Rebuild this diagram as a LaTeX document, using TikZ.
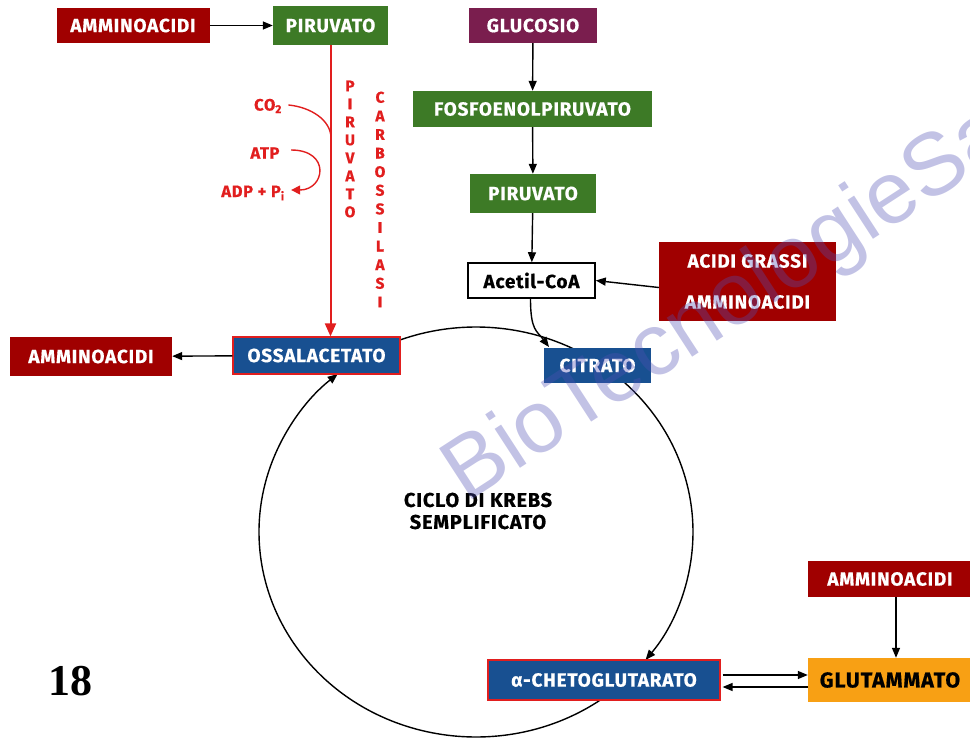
\documentclass[tikz,border=0pt]{standalone}
\usepackage{fontspec}
\setmainfont{Fira Sans}
\newfontfamily\heavy{Fira Sans}[UprightFont=* Bold, FakeBold=0.6, LetterSpace=4]
\newfontfamily\numfont{Liberation Serif}
\newfontfamily\wmfont{Liberation Sans}
\usetikzlibrary{arrows.meta,calc}

\definecolor{aared}{RGB}{160,0,0}
\definecolor{pgreen}{RGB}{61,122,38}
\definecolor{gpurple}{RGB}{122,30,78}
\definecolor{kblue}{RGB}{24,80,145}
\definecolor{gorange}{RGB}{248,160,20}
\definecolor{ered}{RGB}{225,30,30}
\definecolor{wmark}{RGB}{80,80,180}

\begin{document}
\begin{tikzpicture}[x=1pt,y=-1pt,
  box/.style={rectangle, inner sep=0pt, font=\fontsize{19}{20}\selectfont\heavy, text=white},
  aa/.style={box, fill=aared},
  gr/.style={box, fill=pgreen},
  blr/.style={box, fill=kblue, draw=ered, line width=1.2pt},
  bl/.style={box, fill=kblue},
  arr/.style={-{Triangle[length=10pt,width=8pt]}, line width=1.4pt},
  rarr/.style={-{Triangle[length=13pt,width=11pt]}, line width=2pt, draw=ered},
  rtxt/.style={text=ered, font=\fontsize{16.5}{17}\selectfont\heavy},
  vtxt/.style={text=ered, align=center, inner sep=0pt},
]
\useasboundingbox (0,0) rectangle (970,738);
\clip (0,0) rectangle (970,738);

% --- cycle (ellipse arcs, drawn first so the boxes cover them)
\coordinate (K) at (476,532);
\coordinate (k1) at ($(K)+(-113.3:217 and 205)$);
\coordinate (k2) at ($(K)+(-58.3:217 and 205)$);
\coordinate (k3) at ($(K)+(50:217 and 205)$);
\draw[line width=1.4pt] (k1) arc[start angle=-113.3, end angle=-58.3, x radius=217, y radius=205];
\draw[arr] (k2) arc[start angle=-58.3, end angle=38.6, x radius=217, y radius=205];
\draw[arr] (k3) arc[start angle=50, end angle=230.4, x radius=217, y radius=205];

% --- boxes
\node[aa, minimum width=153pt, minimum height=35pt] (amTL) at (133,25.5) {AMMINOACIDI};
\node[gr, minimum width=115pt, minimum height=39pt] (piru1) at (330.5,25.5) {PIRUVATO};
\node[box, fill=gpurple, minimum width=128pt, minimum height=35pt] (gluc) at (533,25.5) {GLUCOSIO};
\node[gr, minimum width=239pt, minimum height=36pt] (fosfo) at (532.5,109) {FOSFOENOLPIRUVATO};
\node[gr, minimum width=126pt, minimum height=39pt] (piru2) at (533,193.5) {PIRUVATO};
\node[box, fill=white, draw=black, line width=1.5pt, text=black, minimum width=127pt, minimum height=35pt] (acetil) at (531.5,280.5) {Acetil-CoA};
\node[aa, minimum width=177pt, minimum height=79pt, align=center, font=\fontsize{19}{41}\selectfont\heavy] (grassi) at (747.5,281.5) {ACIDI GRASSI\\AMMINOACIDI};
\node[blr, minimum width=167pt, minimum height=37pt] (ossal) at (316.5,355.5) {OSSALACETATO};
\node[aa, minimum width=162pt, minimum height=39pt] (amL) at (91,356.5) {AMMINOACIDI};
\node[bl, minimum width=107pt, minimum height=35pt] (citr) at (597.5,365.5) {CITRATO};
\node[blr, minimum width=232pt, minimum height=40pt] (cheto) at (604,680) {{\fontsize{19}{20}\selectfont\mdseries α}-CHETOGLUTARATO};
\node[box, fill=gorange, text=black, minimum width=164pt, minimum height=44pt, font=\fontsize{21.5}{22}\selectfont\heavy] (glut) at (890,680) {GLUTAMMATO};
\node[aa, minimum width=164pt, minimum height=36pt] (amR) at (890,579) {AMMINOACIDI};

% --- central label and page number
\node[align=center, font=\fontsize{20}{22}\selectfont\heavy] (ciclo) at (478,511) {CICLO DI KREBS\\SEMPLIFICATO};
\node[font=\fontsize{44}{44}\selectfont\numfont\bfseries] (num) at (70,681) {18};

% --- black connectors
\draw[arr] (amTL) -- (piru1);
\draw[arr] (gluc) -- (fosfo);
\draw[arr] (fosfo) -- (piru2);
\draw[arr] (piru2) -- (acetil);
\draw[arr] ($(grassi.west)+(0,6)$) -- (acetil.east);
\coordinate (cin) at (549,347);
\draw[arr] ($(acetil.south)+(-1,0)$) .. controls +(0,32) and +(-12,-16) .. (cin);
\draw[arr] (ossal) -- (amL);
\draw[arr] ($(amR.south)+(6,0)$) -- ($(glut.north)+(6,0)$);
\draw[arr] ($(cheto.east)+(2,-5)$) -- ($(glut.west)+(0,-5)$);
\draw[arr] ($(glut.west)+(0,7)$) -- ($(cheto.east)+(2,7)$);

% --- pyruvate carboxylase branch (red)
\draw[rarr] (piru1.south) -- (piru1.south |- ossal.north);
\node[rtxt] (co2) at (268,106) {CO\textsubscript{2}};
\node[rtxt] (atp) at (265,153) {ATP};
\node[rtxt] (adp) at (253,193) {ADP + P\textsubscript{i}};
\coordinate (cj) at (331,138);
\draw[ered, line width=1.4pt] ($(co2.east)+(3,-1)$) .. controls +(22,2) and +(0,-18) .. (cj);
\draw[ered, line width=1.4pt, -{Triangle[length=9pt,width=9pt]}] ($(atp.east)+(8,-3)$) .. controls +(40,0) and +(34,0) .. ($(adp.east)+(3,-3)$);
\node[vtxt, font=\fontsize{15.5}{18}\selectfont\heavy] (pv) at (350,149) {P\\I\\R\\U\\V\\A\\T\\O};
\node[vtxt, font=\fontsize{15.5}{18.6}\selectfont\heavy] (cb) at (380,199.5) {C\\A\\R\\B\\O\\S\\S\\I\\L\\A\\S\\I};

% --- watermark
\node[anchor=base west, rotate=33, text=wmark, opacity=0.35, inner sep=0pt, font=\fontsize{88}{88}\selectfont\wmfont] (wm) at (466,504) {BioTecnologieSa};
\end{tikzpicture}
\end{document}
